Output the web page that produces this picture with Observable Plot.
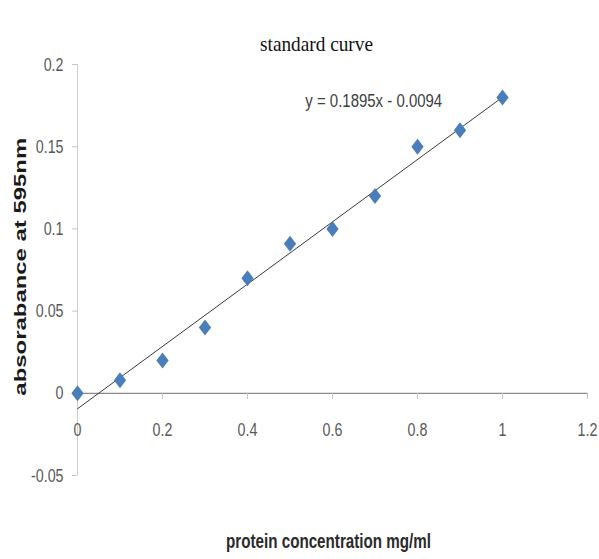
<!DOCTYPE html>
<html>
<head>
<meta charset="utf-8">
<script src="https://cdn.jsdelivr.net/npm/d3@7"></script>
<script src="https://cdn.jsdelivr.net/npm/@observablehq/plot@0.6"></script>
<style>
  html, body { margin: 0; padding: 0; background: #fff; }
  #chart svg { display: block; }
</style>
</head>
<body>
<div id="chart"></div>
<script>
const concentration = [0, 0.1, 0.2, 0.3, 0.4, 0.5, 0.6, 0.7, 0.8, 0.9, 1.0];
const absorbance = [0, 0.008, 0.02, 0.04, 0.07, 0.091, 0.1, 0.12, 0.15, 0.16, 0.18];
const xTicks = [0, 0.2, 0.4, 0.6, 0.8, 1, 1.2];
const yTicks = [-0.05, 0, 0.05, 0.1, 0.15, 0.2];
const slope = 0.1895;
const intercept = -0.0094;
const trendX = [0, 1];
const titleText = "standard curve";
const equationText = "y = 0.1895x - 0.0094";
const xLabel = "protein concentration mg/ml";
const yLabel = "absorabance at 595nm";

const points = concentration.map((x, i) => ({x, y: absorbance[i]}));
const trend = trendX.map(x => ({x, y: slope * x + intercept}));
const fmt = d => String(+d.toFixed(2));
const sans = "'Liberation Sans', Arial, sans-serif";

// Excel-style diamond marker (less elongated than d3's)
const diamond = {
  draw(context, size) {
    const w = Math.sqrt(size / 2.6), h = 1.3 * w;
    context.moveTo(0, -h);
    context.lineTo(w, 0);
    context.lineTo(0, h);
    context.lineTo(-w, 0);
    context.closePath();
  }
};

const chart = Plot.plot({
  width: 599,
  height: 559,
  marginLeft: 77,
  marginRight: 12,
  marginTop: 64,
  marginBottom: 84,
  style: {fontFamily: sans, background: "#fff"},
  x: {domain: [0, 1.2], axis: null},
  y: {domain: [-0.05, 0.2], axis: null},
  marks: [
    Plot.axisY(yTicks, {tickSize: 5, tickPadding: 9, tickFormat: fmt, label: null, stroke: "#c4c4c4", fill: "#595959", fontSize: 19}),
    Plot.ruleX([0], {y1: -0.05, y2: 0.2, stroke: "#cfcfcf"}),
    Plot.ruleY([0], {x1: 0, x2: 1.2, stroke: "#8a8a8a", strokeWidth: 1.3}),
    Plot.ruleX(xTicks, {x: d => d, y1: 0, y2: -0.0037, stroke: "#c4c4c4"}),
    Plot.text(xTicks, {x: d => d, y: 0, dy: 37, text: fmt, fill: "#595959", fontSize: 19, ariaLabel: () => "xtick"}),
    Plot.line(trend, {x: "x", y: "y", stroke: "#3a3a3a", strokeWidth: 1}),
    Plot.dot(points, {x: "x", y: "y", symbol: diamond, r: 5.6, fill: "#4a7ebb", stroke: "none"}),
    Plot.text([equationText], {x: 0.536, y: 0.178, text: d => d, textAnchor: "start", fill: "#404040", fontSize: 19, ariaLabel: () => "equation"}),
    Plot.text([titleText], {frameAnchor: "top", dx: -16, dy: -29, text: d => d, fill: "#111", fontSize: 22, fontFamily: "'Liberation Serif', serif", ariaLabel: () => "title"}),
    Plot.text([xLabel], {frameAnchor: "bottom", dx: -4, dy: 72, text: d => d, fill: "#2b2b2b", fontSize: 20, fontWeight: "bold", ariaLabel: () => "xlabel"}),
    Plot.text([yLabel], {frameAnchor: "left", y: 0.077, dx: -57, rotate: -90, textAnchor: "middle", text: d => d, fill: "#1a1a1a", fontSize: 16, fontWeight: "bold", ariaLabel: () => "ylabel"})
  ]
});
document.getElementById("chart").appendChild(chart);

// Scale text along its own direction (around its anchor) to mimic the reference's fonts
function fitText(label, fn) {
  d3.select(chart).selectAll(`text[aria-label="${label}"], g[aria-label="${label}"] text`).each(function() {
    const len = this.getComputedTextLength();
    if (!(len > 0)) return;
    const sx = fn(len) / len;
    const t = this.getAttribute("transform") || "";
    this.setAttribute("transform", `${t} scale(${sx},1)`);
    const x = this.getAttribute("x");
    if (x != null && x !== "") this.setAttribute("x", parseFloat(x) / sx);
  });
}
fitText("y-axis tick label", l => l * 0.75);
fitText("xtick", l => l * 0.75);
fitText("equation", () => 137);
fitText("title", () => 113);
fitText("xlabel", () => 205);
fitText("ylabel", () => 258);
</script>
</body>
</html>
